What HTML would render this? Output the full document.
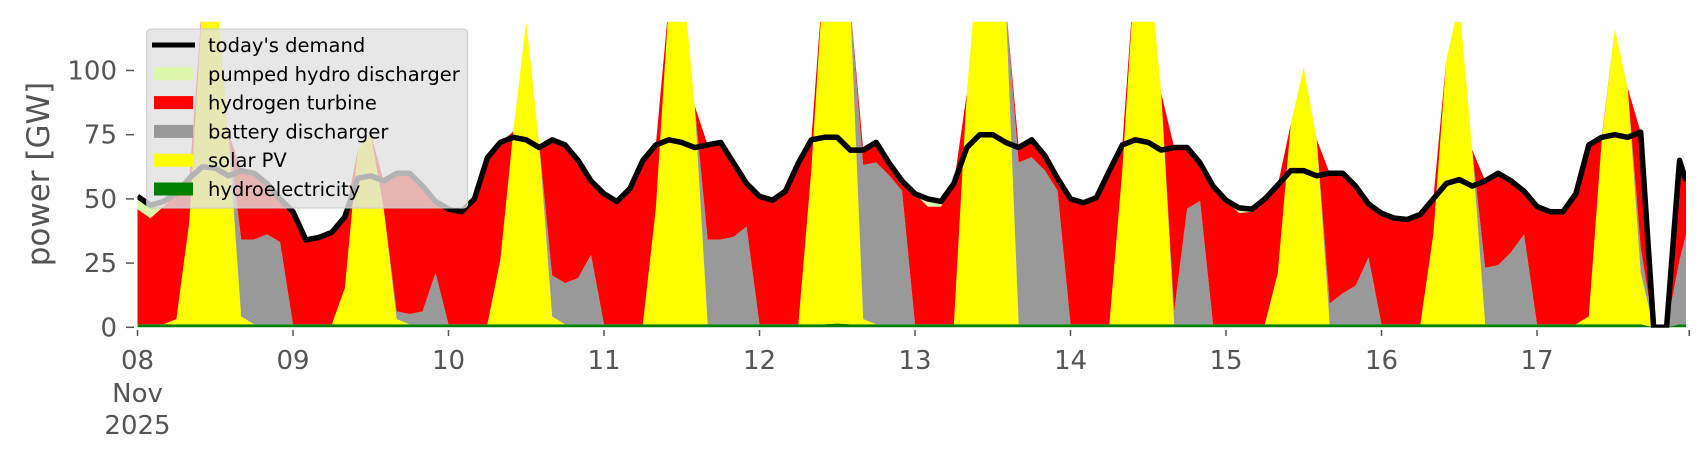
<!DOCTYPE html>
<html><head><meta charset="utf-8"><style>
html,body{margin:0;padding:0;background:#fff;}
svg{display:block;font-family:"DejaVu Sans","Liberation Sans",sans-serif;}
</style></head><body>
<svg id="chart" width="1706" height="460" viewBox="0 0 1706 460" xmlns="http://www.w3.org/2000/svg">
<defs><clipPath id="plotclip"><rect x="137.5" y="21.7" width="1548.5" height="306"/></clipPath></defs>
<g id="areas" clip-path="url(#plotclip)"></g>
<g id="axes"></g>
<text transform="translate(49,174) rotate(-90)" text-anchor="middle" font-size="31" fill="#555">power [GW]</text>
<g id="legend"></g>
</svg>
<script>
// ---- data (2-hourly from 08 Nov 00:00; final point at hour 239) ----
const dayLabels = ["08","09","10","11","12","13","14","15","16","17"];
const yTicks = [0,25,50,75,100];
const demand = [
51,47.5,49,52,58,62.5,62,59,61,60,56,50,
45,34,35,37,43,58,59,57,60,60,55,49,
46,45,50,66,72,74,73,70,73,71,65,57,
52,49,54,65,71,73,72,70,71,72,64,56,
51,49.5,53,64,73,74,74,69,69,72,64,57,
52,50,49,56,70,75,75,72,70,73,67,58,
50,48.5,50.5,61,71,73,72,69,70,70,64,55,
49.5,46.5,46,50,55.4,61,61,59,60,60,55,48,
44.4,42.5,42,44,50,56,57.5,55,57,60,57,53,
47,45,45,52,71,74,75,74,76,0,0,65,57];
const hydro = [
1.2,1.2,1.2,1.2,1.2,1.2,1.2,1.2,1.2,1.2,1.2,1.2,
1.2,1.2,1.2,1.2,1.2,1.2,1.2,1.2,1.2,1.2,1.2,1.2,
1.2,1.2,1.2,1.2,1.2,1.2,1.2,1.2,1.2,1.2,1.2,1.2,
1.2,1.2,1.2,1.2,1.2,1.2,1.2,1.2,1.2,1.2,1.2,1.2,
1.2,1.2,1.2,1.2,1.2,1.2,1.5,1.2,1.2,1.2,1.2,1.2,
1.2,1.2,1.2,1.2,1.2,1.2,1.2,1.2,1.2,1.2,1.2,1.2,
1.2,1.2,1.2,1.2,1.2,1.2,1.2,1.2,1.2,1.2,1.2,1.2,
1.2,1.2,1.2,1.2,1.2,1.2,1.2,1.2,1.2,1.2,1.2,1.2,
1.2,1.2,1.2,1.2,1.2,1.2,1.2,1.2,1.2,1.2,1.2,1.2,
1.2,1.2,1.2,1.2,1.2,1.2,1.2,1.2,1.2,0,0,1.2,1.2];
const solar = [
0,0,0,2,40,125,135,75,3,0,0,0,
0,0,0,0,14,68,74,45,2,0,0,0,
0,0,0,0,25,75,118,70,3,0,0,0,
0,0,0,0,45,125,140,85,0,0,0,0,
0,0,0,0,60,140,150,125,2,0,0,0,
0,0,0,0,90,150,150,125,0,0,0,0,
0,0,0,0,60,140,145,90,0,0,0,0,
0,0,0,0,20,78,100,72,0,0,0,0,
0,0,0,0,35,103,125,68,0,0,0,0,
0,0,0,0,3,72,115,92,20,0,0,0,0];
const battery = [
0,0,0,0,0,0,0,0,30,33,35,32,
0,0,0,0,0,0,0,0,3,4,5,20,
0,0,0,0,0,0,0,0,16,16,18,27,
0,0,0,0,0,0,0,0,33,33,34,38,
0,0,0,0,0,0,0,0,60,63,58,52,
0,0,0,0,0,0,0,0,63,65,60,52,
0,0,0,0,0,0,0,0,5,45,48,0,
0,0,0,0,0,0,0,0,8,12,15,26,
0,0,0,0,0,0,0,0,22,23,28,35,
0,0,0,0,0,0,0,0,10,0,0,25,35];
const hydrogen = [
44.8,41.3,45.8,48.8,16.8,0,0,0,26.8,25.8,19.8,16.8,
43.8,32.8,33.8,35.8,27.8,0,0,10.8,53.8,54.8,48.8,27.8,
44.8,43.8,48.8,64.8,45.8,0,0,0,52.8,53.8,45.8,28.8,
50.8,47.8,52.8,63.8,24.8,0,0,0,36.8,37.8,28.8,16.8,
49.8,48.3,51.8,62.8,11.8,0,0,0,5.8,7.8,4.8,3.8,
50.8,45.8,45.8,54.8,0,0,0,0,5.8,6.8,5.8,4.8,
48.8,47.3,49.3,59.8,9.8,0,0,0,63.8,23.8,14.8,53.8,
48.3,43.3,43.8,48.8,34.2,0,0,0,50.8,46.8,38.8,20.8,
43.2,41.3,40.8,42.8,13.8,0,0,0,33.8,35.8,27.8,16.8,
45.8,43.8,43.8,50.8,66.8,0.8,0,0,44.8,0,0,38.8,20.8];
const pumped = [
5,5,2,0,0,0,0,0,0,0,0,0,
0,0,0,0,0,0,0,0,0,0,0,0,
0,0,0,0,0,0,0,0,0,0,0,0,
0,0,0,0,0,0,0,0,0,0,0,0,
0,0,0,0,0,0,0,0,0,0,0,0,
0,3,2,0,0,0,0,0,0,0,0,0,
0,0,0,0,0,0,0,0,0,0,0,0,
0,2,1,0,0,0,0,0,0,0,0,0,
0,0,0,0,0,0,0,0,0,0,0,0,
0,0,0,0,0,0,0,0,0,0,0,0,0];

// ---- scales ----
const X0=137.5, DAYW=155.5, Y0=327.3, YMAX=119, PLOT_TOP=21.7;
function hourOf(i){ return i<120 ? 2*i : 239; }
function xs(h){ return X0 + DAYW*h/24; }
function ys(v){ return Y0 - (Y0-PLOT_TOP)*v/YMAX; }
const NS="http://www.w3.org/2000/svg";
function mk(tag, attrs, parent){ const e=document.createElementNS(NS,tag); for(const k in attrs) e.setAttribute(k,attrs[k]); parent.appendChild(e); return e; }

const areas=document.getElementById('areas');
const series=[
  {name:'hydroelectricity-area', data:hydro, color:'#008000'},
  {name:'solar-pv-area', data:solar, color:'#ffff00'},
  {name:'battery-discharger-area', data:battery, color:'#999999'},
  {name:'hydrogen-turbine-area', data:hydrogen, color:'#ff0000'},
  {name:'pumped-hydro-area', data:pumped, color:'#dcf7a8'}
];
const n=demand.length;
let base=new Array(n).fill(0);
series.forEach(s=>{
  const top=base.map((b,i)=>b+s.data[i]);
  let pts=[];
  for(let i=0;i<n;i++) pts.push(xs(hourOf(i)).toFixed(2)+','+ys(top[i]).toFixed(2));
  for(let i=n-1;i>=0;i--) pts.push(xs(hourOf(i)).toFixed(2)+','+ys(base[i]).toFixed(2));
  const p=mk('polygon',{points:pts.join(' '),fill:s.color,stroke:'none'},areas);
  
  
  base=top;
});
let dpts=[];
for(let i=0;i<n;i++) dpts.push(xs(hourOf(i)).toFixed(2)+','+ys(demand[i]).toFixed(2));
const dl=mk('polyline',{points:dpts.join(' '),fill:'none',stroke:'#000','stroke-width':5.5,'stroke-linejoin':'round'},areas);



// ---- axes ----
const axes=document.getElementById('axes');
yTicks.forEach(v=>{
  const y=ys(v);
  const t=mk('line',{x1:126,x2:134,y1:y,y2:y,stroke:'#555','stroke-width':1.5},axes);
  
  
  const l=mk('text',{x:117,y:y+9,'text-anchor':'end','font-size':26,fill:'#555'},axes);
  l.textContent=v;
  
  
});
dayLabels.forEach((d,i)=>{
  const x=xs(i*24);
  const t=mk('line',{x1:x,x2:x,y1:330,y2:336,stroke:'#555','stroke-width':1.5},axes);
  
  
  const l=mk('text',{x:x,y:369,'text-anchor':'middle','font-size':26,fill:'#555'},axes);
  l.textContent=d;
  
  
});
{
  const x=xs(239.5);
  const t=mk('line',{x1:x,x2:x,y1:330,y2:336,stroke:'#555','stroke-width':1.5},axes);
  
  
  const m=mk('text',{x:xs(0),y:402,'text-anchor':'middle','font-size':26,fill:'#555'},axes);
  m.textContent='Nov';
  
  
  const yr=mk('text',{x:xs(0),y:434,'text-anchor':'middle','font-size':26,fill:'#555'},axes);
  yr.textContent='2025';
  
  
}

// ---- legend ----
const lg=document.getElementById('legend');
const box=mk('rect',{x:146.7,y:29,width:321,height:179,rx:4,fill:'#e1e1e1','fill-opacity':0.8,stroke:'#cccccc','stroke-width':1},lg);


const entries=[
  ["today's demand",'line','#000'],
  ['pumped hydro discharger','patch','#dcf7a8'],
  ['hydrogen turbine','patch','#ff0000'],
  ['battery discharger','patch','#999999'],
  ['solar PV','patch','#ffff00'],
  ['hydroelectricity','patch','#008000']
];
entries.forEach((e,i)=>{
  const cy=45+i*28.8;
  const g=mk('g',{},lg);
  
  
  if(e[1]==='line') mk('line',{x1:152,x2:195,y1:cy,y2:cy,stroke:e[2],'stroke-width':5},g);
  else mk('rect',{x:154,y:cy-6.5,width:39,height:13,fill:e[2]},g);
  const t=mk('text',{x:208,y:cy+7,'font-size':19.5,fill:'#000'},g);
  t.textContent=e[0];
});
</script>
</body></html>
